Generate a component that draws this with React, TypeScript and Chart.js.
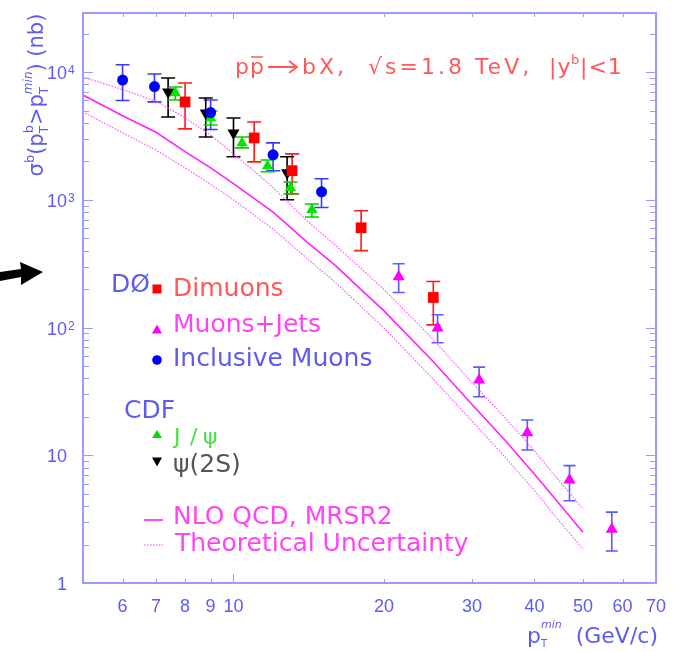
import React, { useEffect, useRef } from 'react';
import { Chart, registerables } from 'chart.js';

Chart.register(...registerables);

// ---------------- data ----------------
const dimuonPt = [8.0, 11.0, 13.1, 18.0, 25.1];
const dimuonSigma = [5840, 3050, 1690, 604, 172];
const dimuonLow = [3590, 1980, 1110, 400, 105];
const dimuonHigh = [8200, 4060, 2290, 820, 229];

const muJetPt = [21.4, 25.6, 31.0, 38.7, 47.0, 57.1];
const muJetSigma = [250, 99, 38.9, 15.0, 6.4, 2.64];
const muJetLow = [188, 76, 28.7, 11.0, 4.4, 1.78];
const muJetHigh = [316, 126, 49, 18.9, 8.3, 3.59];

const inclPt = [6.0, 6.95, 9.0, 12.0, 15.0];
const inclSigma = [8660, 7700, 4820, 2250, 1155];
const inclLow = [5990, 5840, 3550, 1690, 870];
const inclHigh = [11400, 9650, 6040, 2790, 1460];

const jpsiPt = [7.65, 9.0, 10.4, 11.7, 13.0, 14.35];
const jpsiSigma = [6850, 4370, 2790, 1840, 1240, 834];
const jpsiLow = [6040, 3850, 2550, 1660, 1110, 734];
const jpsiHigh = [7640, 4950, 3100, 2050, 1380, 928];

const psi2sPt = [7.4, 8.8, 10.0, 12.8];
const psi2sSigma = [6980, 4790, 3340, 1630];
const psi2sLow = [4450, 3100, 2170, 1000];
const psi2sHigh = [8980, 6270, 4370, 2170];

const theoryPt = [5, 6, 7, 8, 9, 10, 12, 14, 16, 18, 20, 25, 30, 35, 40, 45, 50];
const nloCentral = [6610, 4550, 3380, 2380, 1780, 1340, 800, 470, 305, 198, 135, 55, 25, 13.0, 7.1, 4.1, 2.5];
const nloUpper = [9140, 7300, 5900, 4400, 3200, 2300, 1250, 690, 440, 290, 198, 82, 37, 19.5, 10.8, 6.2, 3.8];
const nloLower = [4870, 3350, 2450, 1780, 1320, 1000, 590, 350, 225, 146, 99, 40, 18.5, 9.6, 5.3, 3.0, 1.85];

const xTickValues = [6, 7, 8, 9, 10, 20, 30, 40, 50, 60, 70];
const xTickLabels = ['6', '7', '8', '9', '10', '20', '30', '40', '50', '60', '70'];
const yDecadeValues = [1, 10, 100, 1000, 10000];
const yDecadeBase = ['1', '10', '10', '10', '10'];
const yDecadeExp = ['', '', '2', '3', '4'];

const X_MIN = 5;
const X_MAX = 70;
const Y_MIN = 1;
const Y_MAX = 29000;

// ---------------- styles ----------------
const AXIS = '#9a9aff';
const BLUE_TXT = '#5c5cf0';
const RED_TXT = '#ff5858';
const MAG_TXT = '#ff44f4';
const FAM = '"DejaVu Sans", sans-serif';
const TICK_FAM = '"Liberation Sans", Arial, sans-serif';

type RI = { t: string; s: number; dy?: number; stack?: boolean; italic?: boolean };

function rich(ctx: CanvasRenderingContext2D, items: RI[], x: number, y: number, draw: boolean, fam: string) {
  let cx = x;
  let segStart = x;
  for (const it of items) {
    ctx.font = `${it.italic ? 'italic ' : ''}${it.s}px ${fam}`;
    const w = ctx.measureText(it.t).width;
    const sx = it.stack ? segStart : cx;
    if (draw) ctx.fillText(it.t, sx, y + (it.dy || 0));
    if (it.stack) {
      cx = Math.max(cx, sx + w);
    } else {
      segStart = sx;
      cx = sx + w;
    }
  }
  return cx - x;
}

function pts(xs: number[], ys: number[]) {
  return xs.map((x, i) => ({ x, y: ys[i] }));
}

function tri(ctx: CanvasRenderingContext2D, cx: number, cy: number, w: number, h: number, down: boolean) {
  ctx.beginPath();
  if (down) {
    ctx.moveTo(cx - w / 2, cy - h / 2);
    ctx.lineTo(cx + w / 2, cy - h / 2);
    ctx.lineTo(cx, cy + h / 2);
  } else {
    ctx.moveTo(cx - w / 2, cy + h / 2);
    ctx.lineTo(cx + w / 2, cy + h / 2);
    ctx.lineTo(cx, cy - h / 2);
  }
  ctx.closePath();
  ctx.fill();
}

const decorPlugin = {
  id: 'decor',
  beforeDatasetsDraw(chart: any) {
    const ctx: CanvasRenderingContext2D = chart.ctx;
    const xs = chart.scales.x;
    const ys = chart.scales.y;
    const a = chart.chartArea;
    ctx.save();
    ctx.beginPath();
    ctx.rect(a.left, a.top, a.right - a.left, a.bottom - a.top);
    ctx.clip();
    chart.data.datasets.forEach((ds: any) => {
      if (!ds.errLow) return;
      ctx.strokeStyle = ds.errColor;
      ctx.lineWidth = 1.6;
      ds.data.forEach((p: any, i: number) => {
        const px = xs.getPixelForValue(p.x);
        const y1 = ys.getPixelForValue(ds.errLow[i]);
        const y2 = ys.getPixelForValue(ds.errHigh[i]);
        const hw = ds.capHalf;
        ctx.beginPath();
        ctx.moveTo(px, y1);
        ctx.lineTo(px, y2);
        ctx.moveTo(px - hw, y1);
        ctx.lineTo(px + hw, y1);
        ctx.moveTo(px - hw, y2);
        ctx.lineTo(px + hw, y2);
        ctx.stroke();
      });
    });
    ctx.restore();
  },
  afterDraw(chart: any) {
    const ctx: any = chart.ctx;
    const xs = chart.scales.x;
    const ys = chart.scales.y;
    const a = chart.chartArea;
    ctx.save();

    // frame
    ctx.strokeStyle = AXIS;
    ctx.lineWidth = 2;
    ctx.strokeRect(a.left, a.top, a.right - a.left, a.bottom - a.top);

    // x ticks (bottom & top)
    ctx.lineWidth = 1;
    xTickValues.forEach((v) => {
      const px = Math.round(xs.getPixelForValue(v)) + 0.5;
      const len = v === 10 ? 9 : 4;
      ctx.beginPath();
      ctx.moveTo(px, a.bottom);
      ctx.lineTo(px, a.bottom - len);
      ctx.moveTo(px, a.top);
      ctx.lineTo(px, a.top + (v === 10 ? 6 : 4));
      ctx.stroke();
    });
    // y ticks (left & right)
    yDecadeValues.forEach((d) => {
      for (let k = 1; k <= 9; k++) {
        const v = d * k;
        if (v > Y_MAX) break;
        const py = Math.round(ys.getPixelForValue(v)) + 0.5;
        const len = k === 1 ? 10 : 6;
        ctx.beginPath();
        ctx.moveTo(a.left, py);
        ctx.lineTo(a.left + len, py);
        ctx.moveTo(a.right, py);
        ctx.lineTo(a.right - len, py);
        ctx.stroke();
      }
    });

    // x tick labels
    ctx.fillStyle = BLUE_TXT;
    ctx.font = `18px ${TICK_FAM}`;
    ctx.textAlign = 'center';
    ctx.textBaseline = 'alphabetic';
    xTickValues.forEach((v, i) => {
      ctx.fillText(xTickLabels[i], xs.getPixelForValue(v), 612);
    });
    // y tick labels
    yDecadeValues.forEach((v, i) => {
      const py = ys.getPixelForValue(v);
      ctx.font = `18px ${TICK_FAM}`;
      ctx.textAlign = 'right';
      ctx.fillText(yDecadeBase[i], 67, py + 7);
      if (yDecadeExp[i]) {
        ctx.font = `12px ${TICK_FAM}`;
        ctx.textAlign = 'left';
        ctx.fillText(yDecadeExp[i], 68, py + 2);
      }
    });

    // y-axis title (rotated)
    ctx.textAlign = 'left';
    const yTitle: RI[] = [
      { t: 'σ', s: 21 },
      { t: 'b', s: 13, dy: -9 },
      { t: '(p', s: 21 },
      { t: 'T', s: 12, dy: 5 },
      { t: 'b', s: 13, dy: -10, stack: true },
      { t: '>', s: 21 },
      { t: 'p', s: 21 },
      { t: 'T', s: 12, dy: 5 },
      { t: 'min', s: 12, dy: -11, stack: true, italic: true },
      { t: ') (nb)', s: 21 },
    ];
    ctx.save();
    ctx.translate(43, 95);
    ctx.rotate(-Math.PI / 2);
    const tw = rich(ctx, yTitle, 0, 0, false, FAM);
    rich(ctx, yTitle, -tw / 2, 0, true, FAM);
    ctx.restore();

    // x-axis title
    const xTitle: RI[] = [
      { t: 'p', s: 22 },
      { t: 'T', s: 10, dy: 4 },
      { t: 'min', s: 11, dy: -15, stack: true, italic: true },
      { t: '  (GeV/c)', s: 22 },
    ];
    rich(ctx, xTitle, 527, 643, true, FAM);

    // legend
    ctx.textAlign = 'left';
    ctx.font = `25px ${FAM}`;
    ctx.fillStyle = BLUE_TXT;
    ctx.fillText('DØ', 111, 292);
    ctx.fillStyle = '#ff0000';
    ctx.fillRect(152.5, 284.5, 9, 9);
    ctx.fillStyle = RED_TXT;
    ctx.fillText('Dimuons', 173, 296);
    ctx.fillStyle = '#ff00ff';
    tri(ctx, 157, 329, 10, 9, false);
    ctx.fillStyle = MAG_TXT;
    ctx.fillText('Muons+Jets', 173, 332);
    ctx.fillStyle = '#0000ff';
    ctx.beginPath();
    ctx.arc(157, 360, 4.8, 0, Math.PI * 2);
    ctx.fill();
    ctx.fillStyle = BLUE_TXT;
    ctx.fillText('Inclusive Muons', 173, 366);
    ctx.fillText('CDF', 124, 418);
    ctx.fillStyle = '#00e000';
    tri(ctx, 157, 434, 10, 8, false);
    ctx.fillStyle = '#44e044';
    ctx.font = `22px ${FAM}`;
    ctx.fillText('J', 174, 444);
    ctx.fillText('/', 190, 444);
    ctx.fillText('ψ', 203, 444);
    ctx.fillStyle = '#000000';
    tri(ctx, 157, 462, 10, 9, true);
    ctx.fillStyle = '#555555';
    ctx.font = `25px ${FAM}`;
    ctx.fillText('ψ(2S)', 173, 472);
    ctx.strokeStyle = '#ff33ff';
    ctx.lineWidth = 1.8;
    ctx.beginPath();
    ctx.moveTo(144, 520);
    ctx.lineTo(163, 520);
    ctx.stroke();
    ctx.lineWidth = 1.2;
    ctx.setLineDash([1.5, 1.5]);
    ctx.beginPath();
    ctx.moveTo(144, 545);
    ctx.lineTo(163, 545);
    ctx.stroke();
    ctx.setLineDash([]);
    ctx.fillStyle = MAG_TXT;
    ctx.fillText('NLO QCD, MRSR2', 173, 524);
    ctx.fillText('Theoretical Uncertainty', 175, 551);

    // process annotation
    ctx.fillStyle = RED_TXT;
    ctx.strokeStyle = RED_TXT;
    ctx.font = `22px ${FAM}`;
    ctx.fillText('p', 235, 74);
    ctx.fillText('p', 250, 74);
    ctx.lineWidth = 1.5;
    ctx.beginPath();
    ctx.moveTo(251, 57);
    ctx.lineTo(263, 57);
    ctx.stroke();
    ctx.lineWidth = 1.8;
    ctx.beginPath();
    ctx.moveTo(268, 67);
    ctx.lineTo(297, 67);
    ctx.moveTo(289, 61);
    ctx.lineTo(297, 67);
    ctx.lineTo(289, 73);
    ctx.stroke();
    ctx.letterSpacing = '3px';
    ctx.fillText('bX,', 302, 74);
    ctx.fillText('√s=1.8 TeV,', 368, 74);
    ctx.letterSpacing = '1px';
    ctx.fillText('|y', 549, 74);
    ctx.font = `13px ${FAM}`;
    ctx.fillText('b', 571, 64);
    ctx.font = `22px ${FAM}`;
    ctx.fillText('|<1', 580, 74);
    ctx.letterSpacing = '0px';

    // arrow at left
    ctx.fillStyle = '#000000';
    ctx.beginPath();
    ctx.moveTo(0, 272);
    ctx.lineTo(21, 269);
    ctx.lineTo(20, 262);
    ctx.lineTo(43, 272);
    ctx.lineTo(21, 285);
    ctx.lineTo(21, 277);
    ctx.lineTo(0, 281);
    ctx.closePath();
    ctx.fill();

    ctx.restore();
  },
};

export default function App() {
  const ref = useRef<HTMLCanvasElement | null>(null);
  useEffect(() => {
    document.body.style.margin = '0';
    const canvas = ref.current;
    if (!canvas) return;
    const chart = new Chart(canvas, {
      type: 'scatter',
      data: {
        datasets: [
          {
            label: 'Dimuons',
            data: pts(dimuonPt, dimuonSigma),
            pointStyle: 'rect',
            pointRadius: 7.6,
            backgroundColor: '#ff0000',
            borderColor: '#ff0000',
            borderWidth: 0,
            errLow: dimuonLow,
            errHigh: dimuonHigh,
            errColor: '#ff1a1a',
            capHalf: 7,
          } as any,
          {
            label: 'Inclusive Muons',
            data: pts(inclPt, inclSigma),
            pointStyle: 'circle',
            pointRadius: 5.5,
            backgroundColor: '#0000ff',
            borderColor: '#0000ff',
            borderWidth: 0,
            errLow: inclLow,
            errHigh: inclHigh,
            errColor: '#3a3aff',
            capHalf: 7,
          } as any,
          {
            label: 'Muons+Jets',
            data: pts(muJetPt, muJetSigma),
            pointStyle: 'triangle',
            pointRadius: 7,
            backgroundColor: '#ff00ff',
            borderColor: '#ff00ff',
            borderWidth: 0,
            errLow: muJetLow,
            errHigh: muJetHigh,
            errColor: '#5a5aff',
            capHalf: 6,
          } as any,
          {
            label: 'psi(2S)',
            data: pts(psi2sPt, psi2sSigma),
            pointStyle: 'triangle',
            rotation: 180,
            pointRadius: 7,
            backgroundColor: '#000000',
            borderColor: '#000000',
            borderWidth: 0,
            errLow: psi2sLow,
            errHigh: psi2sHigh,
            errColor: '#000000',
            capHalf: 7,
          } as any,
          {
            label: 'J/psi',
            data: pts(jpsiPt, jpsiSigma),
            pointStyle: 'triangle',
            pointRadius: 6.5,
            backgroundColor: '#00e600',
            borderColor: '#00e600',
            borderWidth: 0,
            errLow: jpsiLow,
            errHigh: jpsiHigh,
            errColor: '#00d000',
            capHalf: 7,
          } as any,
          {
            label: 'NLO QCD',
            data: pts(theoryPt, nloCentral),
            showLine: true,
            borderColor: '#ff22ff',
            borderWidth: 1.6,
            pointRadius: 0,
            tension: 0,
          } as any,
          {
            label: 'Upper',
            data: pts(theoryPt, nloUpper),
            showLine: true,
            borderColor: '#ff55ff',
            borderWidth: 1.2,
            borderDash: [1.5, 1.5],
            pointRadius: 0,
            tension: 0,
          } as any,
          {
            label: 'Lower',
            data: pts(theoryPt, nloLower),
            showLine: true,
            borderColor: '#ff55ff',
            borderWidth: 1.2,
            borderDash: [1.5, 1.5],
            pointRadius: 0,
            tension: 0,
          } as any,
        ],
      },
      options: {
        animation: false,
        responsive: true,
        maintainAspectRatio: false,
        layout: { padding: { left: 83, right: 25, top: 13, bottom: 69 } },
        scales: {
          x: { type: 'logarithmic', min: X_MIN, max: X_MAX, display: false },
          y: { type: 'logarithmic', min: Y_MIN, max: Y_MAX, display: false },
        },
        plugins: {
          legend: { display: false },
          tooltip: { enabled: false },
        },
      },
      plugins: [decorPlugin],
    });
    return () => chart.destroy();
  }, []);
  return (
    <div style={{ position: 'relative', width: 681, height: 652 }}>
      <canvas ref={ref} />
    </div>
  );
}
